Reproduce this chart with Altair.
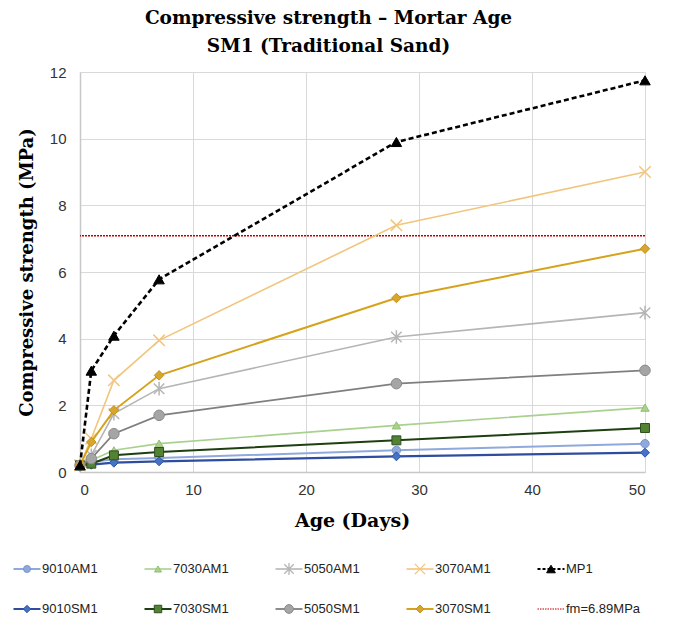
import altair as alt
import pandas as pd

# ---------------- data ----------------
ages = [0, 1, 3, 7, 28, 50]

v_9010AM1 = [0.20, 0.30, 0.38, 0.42, 0.65, 0.85]
v_7030AM1 = [0.20, 0.35, 0.65, 0.85, 1.40, 1.93]
v_5050AM1 = [0.20, 0.50, 1.75, 2.50, 4.05, 4.78]
v_3070AM1 = [0.20, 1.00, 2.75, 3.95, 7.40, 9.00]
v_MP1 = [0.20, 3.04, 4.09, 5.78, 9.90, 11.75]
v_9010SM1 = [0.20, 0.22, 0.28, 0.32, 0.47, 0.58]
v_7030SM1 = [0.20, 0.25, 0.50, 0.60, 0.95, 1.32]
v_5050SM1 = [0.20, 0.40, 1.15, 1.70, 2.65, 3.05]
v_3070SM1 = [0.20, 0.90, 1.85, 2.90, 5.22, 6.70]

fm_value = 7.09
fm_label = "fm=6.89MPa"

x_ticks = [0, 10, 20, 30, 40, 50]
y_ticks = [0, 2, 4, 6, 8, 10, 12]

X_SHAPE = "M-1,-1L1,1M-1,1L1,-1"
AST_SHAPE = "M-1,-1L1,1M-1,1L1,-1M0,-1.3L0,1.3"
LINE_SHAPE = "M-1,0L1,0"

# name, values, line colour, marker fill, marker stroke, shape, filled, dash, line width, size
series = [
    ("9010AM1", v_9010AM1, "#8fa9dc", "#8fa9dc", "#7a95cc", "circle", True, None, 2, 70),
    ("7030AM1", v_7030AM1, "#a9d18e", "#a9d18e", "#93c072", "triangle-up", True, None, 1.6, 70),
    ("5050AM1", v_5050AM1, "#b5b5b5", "#b5b5b5", "#b5b5b5", AST_SHAPE, False, None, 1.6, 110),
    ("3070AM1", v_3070AM1, "#f2c57c", "#f2c57c", "#f2c57c", X_SHAPE, False, None, 1.6, 130),
    ("9010SM1", v_9010SM1, "#2f4d9e", "#4472c4", "#2f55a8", "diamond", True, None, 2.2, 80),
    ("7030SM1", v_7030SM1, "#1e3f10", "#548235", "#2f4f1e", "square", True, None, 2, 80),
    ("5050SM1", v_5050SM1, "#7f7f7f", "#a5a5a5", "#8a8a8a", "circle", True, None, 1.8, 110),
    ("3070SM1", v_3070SM1, "#d6a21c", "#d8a52e", "#c4911a", "diamond", True, None, 2, 90),
    ("MP1", v_MP1, "#000000", "#000000", "#000000", "triangle-up", True, [5, 3], 2.6, 110),
]

legend_order = [
    "9010AM1", "7030AM1", "5050AM1", "3070AM1", "MP1",
    "9010SM1", "7030SM1", "5050SM1", "3070SM1", fm_label,
]

LABEL_FONT = "Liberation Sans"
TITLE_FONT = "DejaVu Serif"

x_enc = alt.X("age:Q", scale=alt.Scale(domain=[0, 50], nice=False),
              axis=alt.Axis(values=x_ticks, title="Age (Days)", titleFontSize=19,
                            labelPadding=10, titlePadding=14, titleX=272))
y_enc = alt.Y("value:Q", scale=alt.Scale(domain=[0, 12], nice=False),
              axis=alt.Axis(values=y_ticks, title="Compressive strength (MPa)",
                            labelPadding=14, titleX=-53, titleBaseline="middle",
                            titleAlign="center", titleAngle=270))

layers = []
fm_df = pd.DataFrame({"value": [fm_value]})
layers.append(
    alt.Chart(fm_df).mark_rule(color="#c00000", strokeWidth=1.5, strokeDash=[2, 1])
    .encode(y=y_enc)
)

style = {}
for name, vals, lc, mf, ms, shape, filled, dash, lw, size in series:
    style[name] = (lc, mf, ms, shape, filled, dash, lw, size)
    df = pd.DataFrame({"age": ages, "value": vals})
    base = alt.Chart(df).encode(x=x_enc, y=y_enc)
    lkw = dict(color=lc, strokeWidth=lw)
    if dash:
        lkw["strokeDash"] = dash
    layers.append(base.mark_line(**lkw))
    if filled:
        pkw = dict(shape=shape, filled=True, fill=mf, stroke=ms, strokeWidth=1,
                   size=size, opacity=1)
    else:
        pkw = dict(shape=shape, filled=False, stroke=mf, strokeWidth=1.5,
                   size=size, opacity=1)
    layers.append(base.mark_point(**pkw))

main = alt.layer(*layers)

# ---------------- custom legend (drawn below the plot area) ----------------
leg_layers = []
for i, name in enumerate(legend_order):
    ldf = pd.DataFrame({"col": [i % 5], "row": [i // 5], "label": [name]})
    lx = alt.X("col:Q", scale=alt.Scale(domain=[0, 5], range=[-53, 602], nice=False), axis=None)
    ly = alt.Y("row:Q", scale=alt.Scale(domain=[0, 1], range=[497, 537], nice=False), axis=None)
    lb = alt.Chart(ldf).encode(x=lx, y=ly)
    if name == fm_label:
        leg_layers.append(lb.mark_point(shape=LINE_SHAPE, size=729, filled=False,
                                        stroke="#c00000", strokeWidth=1.2,
                                        strokeDash=[1.5, 1], opacity=1))
    else:
        lc, mf, ms, shape, filled, dash, lw, size = style[name]
        sk = dict(shape=LINE_SHAPE, size=729, filled=False, stroke=lc,
                  strokeWidth=min(lw, 2), opacity=1)
        if dash:
            sk["strokeDash"] = [3, 2]
        leg_layers.append(lb.mark_point(**sk))
        if filled:
            pk = dict(shape=shape, filled=True, fill=mf, stroke=ms, strokeWidth=1,
                      size=size * 0.7, opacity=1)
        else:
            pk = dict(shape=shape, filled=False, stroke=mf, strokeWidth=1.3,
                      size=size * 0.8, opacity=1)
        leg_layers.append(lb.mark_point(**pk))
    leg_layers.append(lb.mark_text(align="left", baseline="middle", dx=15, fontSize=13,
                                   font=LABEL_FONT, color="#222222").encode(text="label:N"))

legend = alt.layer(*leg_layers)

chart = alt.layer(main, legend).resolve_scale(x="independent", y="independent").properties(
    width=565, height=400,
    padding={"left": 1, "right": 0, "top": 0, "bottom": 0},
    title=alt.TitleParams(["Compressive strength \u2013 Mortar Age", "SM1 (Traditional Sand)"],
                          font=TITLE_FONT, fontSize=18.5, fontWeight="bold", color="#000000",
                          anchor="middle", lineHeight=28, offset=10, dx=-34)
).configure_view(stroke=None).configure_axis(
    grid=True, gridColor="#d9d9d9", gridWidth=1, domainColor="#c8c8c8", domainWidth=1.5,
    ticks=False, labelFont=LABEL_FONT, labelFontSize=15, labelColor="#333333",
    titleFont=TITLE_FONT, titleFontSize=18, titleFontWeight="bold", titleColor="#000000",
)

chart.save("out.html", embed_options={"renderer": "svg", "actions": False})
